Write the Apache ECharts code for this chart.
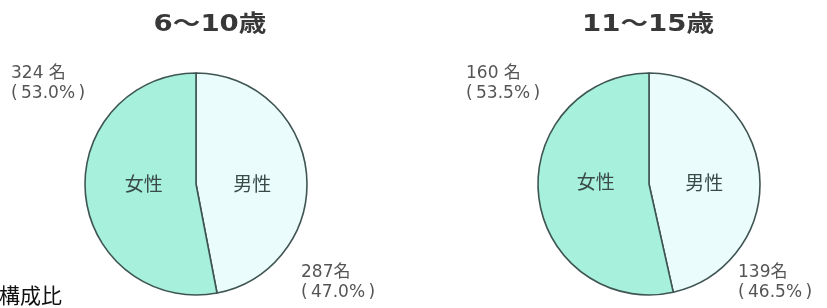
<!DOCTYPE html>
<html>
<head>
<meta charset="utf-8">
<script src="https://cdn.jsdelivr.net/npm/echarts@6/dist/echarts.min.js"></script>
<style>
html,body{margin:0;padding:0;background:#fff;}
#chart{width:827px;height:308px;}
</style>
</head>
<body>
<div id="chart"></div>
<script>
// データ
var groups = ['6～10歳', '11～15歳'];
var sexNames = ['男性', '女性'];
var maleCounts = [287, 139];
var femaleCounts = [324, 160];
var malePct = ['47.0', '46.5'];
var femalePct = ['53.0', '53.5'];
var femaleSep = [' ', ' '];
var footnote = '構成比';

var centers = [[196, 184], [649, 184]];
var radius = 111;
var titleX = [210, 648];
// 外側ラベルの位置 (女性, 男性)
var femaleLabelPos = [[11, 64], [466, 64]];
var maleLabelPos = [[301, 263], [738, 263]];
// 内側ラベルの微調整 [男性, 女性]
var innerShift = [
	[[-2, 5], [6, -6]],
	[[-3, 5], [5, -9]]
];

var chart = echarts.init(document.getElementById('chart'));
var series = [];
var graphics = [];
var thin = '\u2009';

function outerText(x, y, txt) {
	return {
		type: 'text',
		left: x,
		top: y,
		silent: true,
		style: {
			text: txt,
			fontFamily: 'DejaVu Sans, Noto Sans CJK JP',
			fontSize: 17,
			lineHeight: 20,
			fill: '#555'
		}
	};
}

groups.forEach(function(g, i) {
	series.push({
		type: 'pie',
		center: centers[i],
		radius: radius,
		startAngle: 90,
		clockwise: true,
		silent: true,
		animation: false,
		itemStyle: {borderColor: '#3f5552', borderWidth: 1.6},
		label: {
			show: true,
			position: 'inner',
			formatter: '{b}',
			fontFamily: 'Noto Sans CJK JP',
			fontSize: 19,
			color: '#3a4a47'
		},
		labelLine: {show: false},
		labelLayout: function(p) {
			var s = innerShift[i][p.dataIndex];
			return {dx: s[0], dy: s[1]};
		},
		data: [
			{name: sexNames[0], value: maleCounts[i], itemStyle: {color: '#ebfcfc'}},
			{name: sexNames[1], value: femaleCounts[i], itemStyle: {color: '#a6f0dc'}}
		]
	});
	graphics.push(outerText(femaleLabelPos[i][0], femaleLabelPos[i][1],
		femaleCounts[i] + femaleSep[i] + '名\n(' + thin + femalePct[i] + '%' + thin + ')'));
	graphics.push(outerText(maleLabelPos[i][0], maleLabelPos[i][1],
		maleCounts[i] + '名\n(' + thin + malePct[i] + '%' + thin + ')'));
	// 見出し（横に少し広げる）
	graphics.push({
		type: 'text',
		x: titleX[i],
		y: 14,
		scaleX: 1.2,
		silent: true,
		style: {
			text: g,
			align: 'center',
			verticalAlign: 'top',
			fontFamily: 'DejaVu Sans, Noto Sans CJK JP',
			fontSize: 23,
			fontWeight: 'bold',
			fill: '#383838'
		}
	});
});

graphics.push({
	type: 'text',
	left: -1,
	top: 285,
	silent: true,
	style: {
		text: footnote,
		fontFamily: 'Noto Sans CJK JP',
		fontSize: 21,
		fill: '#111'
	}
});

chart.setOption({
	backgroundColor: '#fff',
	graphic: graphics,
	series: series
});
</script>
</body>
</html>
